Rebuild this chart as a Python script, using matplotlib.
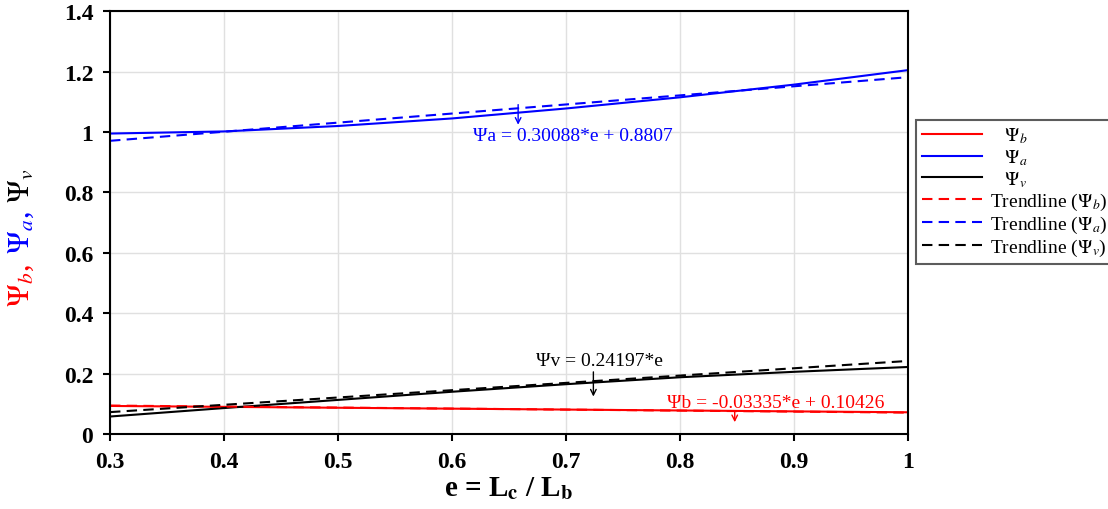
import numpy as np
import matplotlib.pyplot as plt

plt.rcParams['font.family'] = ['Liberation Serif', 'DejaVu Serif']
plt.rcParams['mathtext.fontset'] = 'stix'

e = [0.3, 0.4, 0.5, 0.6, 0.7, 0.8, 0.9, 1.0]
psi_b = [0.093, 0.090, 0.087, 0.084, 0.081, 0.078, 0.075, 0.072]
psi_a = [0.995, 1.002, 1.020, 1.045, 1.078, 1.115, 1.157, 1.205]
psi_v = [0.058, 0.086, 0.113, 0.140, 0.165, 0.188, 0.206, 0.222]

# trendline coefficients (slope, intercept) as printed on the chart
trend_b = (-0.03335, 0.10426)
trend_a = (0.30088, 0.8807)
trend_v = (0.24197, 0.0)

x = np.array(e)

fig = plt.figure(figsize=(11.08, 5.10), dpi=100)
ax = fig.add_axes([0.0993, 0.147, 0.7202, 0.829])

ax.plot(e, psi_b, color='red', lw=1.5, label=r'   $\Psi_b$')
ax.plot(e, psi_a, color='blue', lw=1.5, label=r'   $\Psi_a$')
ax.plot(e, psi_v, color='black', lw=1.5, label=r'   $\Psi_v$')
ax.plot(x, trend_b[0] * x + trend_b[1], color='red', lw=1.5, ls=(0, (5, 3)),
        label=r'Trendline ($\Psi_b$)')
ax.plot(x, trend_a[0] * x + trend_a[1], color='blue', lw=1.5, ls=(0, (5, 3)),
        label=r'Trendline ($\Psi_a$)')
ax.plot(x, trend_v[0] * x + trend_v[1], color='black', lw=1.5, ls=(0, (5, 3)),
        label=r'Trendline ($\Psi_v$)')

ax.set_xlim(0.3, 1.0)
ax.set_ylim(0, 1.4)
ax.set_xticks([0.3, 0.4, 0.5, 0.6, 0.7, 0.8, 0.9, 1.0])
ax.set_xticklabels(['0.3', '0.4', '0.5', '0.6', '0.7', '0.8', '0.9', '1'])
ax.set_yticks([0, 0.2, 0.4, 0.6, 0.8, 1.0, 1.2, 1.4])
ax.set_yticklabels(['0', '0.2', '0.4', '0.6', '0.8', '1', '1.2', '1.4'])
ax.grid(True, color='#e0e0e0', lw=1)
ax.set_axisbelow(True)
ax.tick_params(direction='out', length=5, width=1.5, labelsize=17, pad=7)
for lbl in ax.get_xticklabels() + ax.get_yticklabels():
    lbl.set_fontweight('bold')
for s in ax.spines.values():
    s.set_linewidth(1.5)

ax.set_xlabel(r'e = L$_\mathbf{c}$ / L$_\mathbf{b}$', fontsize=21, fontweight='bold', labelpad=2)

# multi-coloured y label
fig.text(0.019, 0.44, r'$\Psi_b$,', color='red', fontsize=22, rotation=90, ha='center', va='center')
fig.text(0.019, 0.545, r'$\Psi_a$,', color='blue', fontsize=22, rotation=90, ha='center', va='center')
fig.text(0.019, 0.635, r'$\Psi_v$', color='black', fontsize=22, rotation=90, ha='center', va='center')

# trendline equations
ax.annotate('', xy=(0.658, 1.015), xytext=(0.658, 1.10),
            arrowprops=dict(arrowstyle='->', color='blue', lw=1))
ax.text(0.706, 0.99, 'Ψa = 0.30088*e + 0.8807', color='blue', fontsize=14, ha='center', va='center')
ax.annotate('', xy=(0.724, 0.115), xytext=(0.724, 0.215),
            arrowprops=dict(arrowstyle='->', color='black', lw=1))
ax.text(0.729, 0.245, 'Ψv = 0.24197*e', color='black', fontsize=14, ha='center', va='center')
ax.annotate('', xy=(0.848, 0.03), xytext=(0.848, 0.085),
            arrowprops=dict(arrowstyle='->', color='red', lw=1))
ax.text(0.884, 0.103, 'Ψb = -0.03335*e + 0.10426', color='red', fontsize=14, ha='center', va='center')

leg = fig.legend(loc='upper left', bbox_to_anchor=(0.8267, 0.763), fontsize=14,
                 frameon=True, fancybox=False, edgecolor='#333333', handlelength=3.1,
                 borderpad=0.3, labelspacing=0.1, handletextpad=0.4, borderaxespad=0)
leg.get_frame().set_linewidth(1.5)

fig.savefig('out.png', dpi=100)
